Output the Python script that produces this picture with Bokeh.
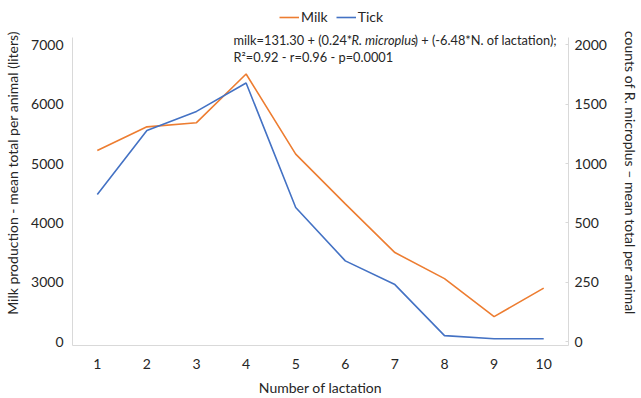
import numpy as np
from bokeh.plotting import figure
from bokeh.models import LinearAxis, FixedTicker, Legend, LegendItem, Label
from bokeh.embed import file_html
from bokeh.resources import INLINE

# ---- data ----
lactation = [1, 2, 3, 4, 5, 6, 7, 8, 9, 10]
milk = [5220, 5620, 5690, 6510, 5160, 4320, 3500, 3060, 1260, 2700]
tick = [740, 1280, 1440, 1680, 630, 340, 240, 25, 12, 12]
milk_axis_ticks = [0, 3000, 4000, 5000, 6000, 7000]
tick_axis_ticks = [0, 250, 500, 1000, 1500, 2000]

# both value axes are evenly spaced at their labelled values (broken scale)
slots = list(range(len(milk_axis_ticks)))
milk_pos = np.interp(milk, milk_axis_ticks, slots)
tick_pos = np.interp(tick, tick_axis_ticks, slots)

FONT = "Lato"
TXT = "#262626"
AX = "#d9d9d9"
ORANGE = "#ED7D31"
BLUE = "#4472C4"

AXIS_BOUNDS = (-0.067, 5.133)

p = figure(width=641, height=398, x_range=(0.5, 10.5), y_range=(-0.067, 5.75),
           title=None, output_backend="svg", toolbar_location=None,
           min_border_left=72, min_border_right=64, min_border_top=0, min_border_bottom=49)
p.outline_line_color = None
p.xgrid.visible = False
p.ygrid.visible = False

r_milk = p.line(lactation, milk_pos, line_color=ORANGE, line_width=1.6)
r_tick = p.line(lactation, tick_pos, line_color=BLUE, line_width=1.6)

def style_axis(ax):
    ax.axis_line_color = AX
    ax.major_tick_line_color = AX
    ax.minor_tick_line_color = None
    ax.major_tick_out = 0
    ax.major_tick_in = 0
    ax.major_label_text_font = FONT
    ax.major_label_text_font_size = "14px"
    ax.major_label_text_color = TXT
    ax.axis_label_text_font = FONT
    ax.axis_label_text_font_size = "14px"
    ax.axis_label_text_font_style = "normal"
    ax.axis_label_text_color = TXT

# x axis
xa = p.xaxis[0]
style_axis(xa)
xa.ticker = FixedTicker(ticks=lactation)
xa.major_label_standoff = 13
xa.axis_label = "Number of lactation"
xa.axis_label_standoff = 7

# left axis
ya = p.yaxis[0]
style_axis(ya)
ya.bounds = AXIS_BOUNDS
ya.ticker = FixedTicker(ticks=slots)
ya.major_label_overrides = {s: str(v) for s, v in zip(slots, milk_axis_ticks)}
ya.major_label_standoff = 9
ya.axis_label = "Milk production - mean total per animal (liters)"
ya.axis_label_standoff = 7

# right axis
ra = LinearAxis(ticker=FixedTicker(ticks=slots), bounds=AXIS_BOUNDS)
style_axis(ra)
ra.major_tick_in = 3
ra.major_label_overrides = {s: str(v) for s, v in zip(slots, tick_axis_ticks)}
ra.major_label_standoff = 6
ra.axis_label = "counts of R. microplus \u2013 mean total per animal"
ra.axis_label_standoff = 12
p.add_layout(ra, "right")

# equation annotation
ax0 = 161
ay1 = 306
ay2 = 289
for txt, style, dx in [("milk=131.30 + (0.24*", "normal", 0),
                       ("R. microplus", "italic", 118),
                       (") + (-6.48*N. of lactation);", "normal", 181)]:
    p.add_layout(Label(x=ax0 + dx, y=ay1, x_units="screen", y_units="screen", text=txt,
                       text_align="left", text_baseline="middle",
                       text_font=FONT, text_font_size="12.8px", text_font_style=style,
                       text_color=TXT))
p.add_layout(Label(x=ax0, y=ay2, x_units="screen", y_units="screen",
                   text="R\u00b2=0.92 - r=0.96 - p=0.0001",
                   text_align="left", text_baseline="middle",
                   text_font=FONT, text_font_size="12.8px", text_color=TXT))

legend = Legend(items=[LegendItem(label="Milk", renderers=[r_milk]),
                       LegendItem(label="Tick", renderers=[r_tick])],
                orientation="horizontal", location=(207, 320),
                border_line_color=None, background_fill_alpha=0,
                label_text_font=FONT, label_text_font_size="14px", label_text_color=TXT,
                glyph_width=20, glyph_height=14, label_height=14, label_standoff=2,
                spacing=8, padding=0, margin=0)
p.add_layout(legend, "center")

open("out.html", "w").write(file_html(p, INLINE))
